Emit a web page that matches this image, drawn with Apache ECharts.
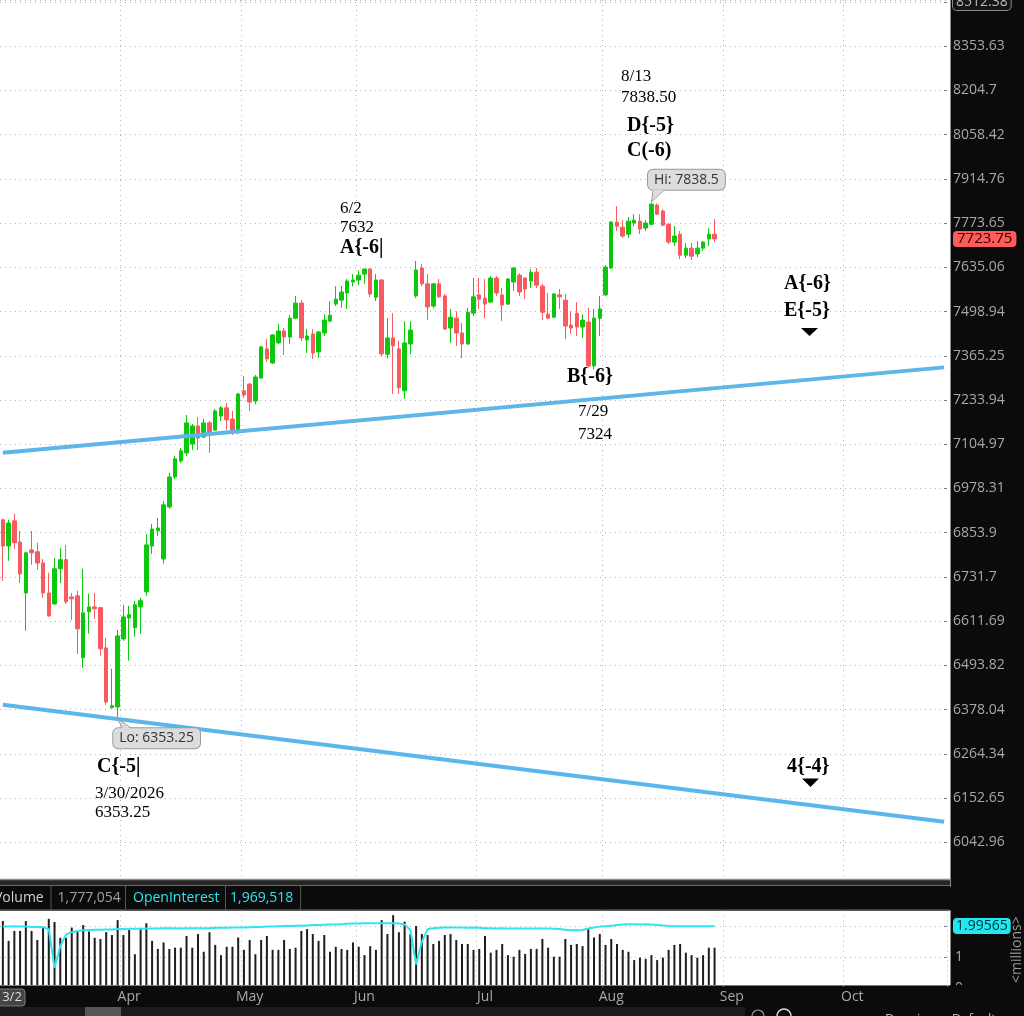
<!DOCTYPE html>
<html><head><meta charset="utf-8">
<script src="https://cdn.jsdelivr.net/npm/echarts@6/dist/echarts.min.js"></script>
<style>html,body{margin:0;padding:0;background:#0b0b0b;overflow:hidden}#c{width:1024px;height:1016px}</style>
</head><body><div id="c"></div>
<script>
// ---------- data ----------
const tickLabels = ['6042.96','6152.65','6264.34','6378.04','6493.82','6611.69','6731.7','6853.9','6978.31','7104.97','7233.94','7365.25','7498.94','7635.06','7773.65','7914.76','8058.42','8204.7','8353.63'];
const axisTop = 8512.38;
const monthNames = ['Jan','Feb','Mar','Apr','May','Jun','Jul','Aug','Sep','Oct','Nov','Dec'];
const firstDay = '2026-03-02';
const holidays = ['2026-04-03','2026-05-25','2026-06-19','2026-07-03','2026-09-07'];
const slotCount = 165;

const opens  = [6890,6817,6887,6828,6688,6806,6801,6770,6688,6658,6754,6779,6677,6680,6514,6637,6650,6648,6540,6383,6385,6564,6620,6594,6650,6691,6817,6859,6781,6926,7011,7057,7080,7106,7158,7126,7167,7146,7187,7211,7178,7138,7261,7281,7231,7299,7386,7344,7404,7440,7422,7479,7525,7413,7431,7377,7434,7470,7522,7534,7556,7590,7596,7614,7630,7543,7596,7370,7419,7386,7261,7401,7547,7633,7584,7516,7584,7547,7449,7479,7434,7401,7494,7550,7540,7528,7602,7550,7522,7590,7611,7602,7593,7620,7577,7491,7482,7550,7534,7458,7494,7452,7467,7335,7479,7550,7633,7777,7761,7739,7774,7780,7758,7770,7831,7812,7770,7714,7739,7673,7695,7677,7695,7724,7739];
const closes = [6817,6881,6826,6740,6798,6798,6770,6688,6626,6754,6779,6664,6672,6591,6634,6650,6645,6538,6398,6388,6572,6623,6629,6656,6667,6820,6864,6867,6932,7011,7063,7086,7167,7158,7123,7167,7138,7202,7211,7176,7146,7252,7249,7228,7302,7392,7356,7428,7440,7422,7479,7525,7419,7425,7374,7437,7473,7488,7537,7559,7593,7596,7611,7630,7553,7596,7371,7419,7395,7270,7404,7443,7627,7584,7513,7584,7544,7446,7482,7434,7401,7497,7544,7537,7522,7602,7556,7519,7599,7633,7559,7568,7620,7580,7497,7479,7553,7544,7455,7449,7452,7473,7335,7479,7507,7636,7777,7764,7733,7780,7783,7755,7774,7834,7802,7767,7714,7733,7673,7695,7670,7695,7714,7739,7723.75];
const lows   = [6721,6776,6809,6715,6586,6765,6751,6675,6623,6656,6715,6658,6615,6524,6487,6578,6618,6519,6390,6380,6353.25,6559,6506,6570,6578,6680,6795,6845,6768,6921,7005,7051,7071,7088,7088,7123,7080,7144,7173,7146,7132,7135,7240,7202,7222,7296,7347,7341,7401,7368,7401,7476,7410,7374,7356,7359,7425,7467,7516,7510,7507,7577,7580,7584,7543,7531,7364,7358,7252,7252,7237,7370,7540,7577,7473,7510,7540,7443,7404,7395,7358,7398,7485,7507,7479,7525,7547,7470,7519,7562,7547,7537,7571,7571,7473,7476,7479,7507,7416,7431,7425,7419,7330,7324,7425,7547,7630,7749,7727,7727,7764,7739,7749,7767,7799,7764,7708,7702,7661,7664,7658,7667,7686,7702,7714];
const highs  = [6893,6890,6907,6859,6801,6859,6826,6781,6743,6784,6812,6820,6688,6694,6754,6686,6688,6650,6567,6485,6588,6656,6653,6667,6675,6850,6878,6895,6943,7023,7071,7094,7190,7164,7184,7179,7173,7208,7216,7225,7202,7255,7305,7284,7308,7395,7416,7431,7461,7449,7488,7547,7534,7446,7446,7440,7491,7531,7577,7577,7599,7614,7625,7631,7632,7614,7599,7479,7494,7410,7470,7470,7655,7645,7614,7587,7599,7553,7507,7500,7464,7510,7602,7602,7599,7608,7608,7571,7602,7636,7617,7605,7630,7633,7584,7556,7556,7568,7553,7500,7528,7491,7510,7507,7547,7642,7780,7828,7783,7793,7802,7802,7783,7838.5,7836,7818,7774,7764,7749,7711,7711,7717,7717,7758,7786];
// volume and open interest, millions
const volumes = [2.16,1.52,1.84,1.84,2.16,1.84,1.55,1.98,2.23,2.13,1.62,1.62,1.95,1.82,2.03,1.82,1.62,1.58,1.80,1.71,2.19,1.71,1.87,1.09,1.90,2.09,1.52,1.26,1.47,1.26,1.30,1.30,1.68,1.30,1.74,1.17,1.80,1.39,1.06,1.33,1.33,1.63,1.23,1.55,1.09,1.55,1.68,1.23,1.23,1.55,1.26,1.30,1.84,1.90,1.74,1.52,1.71,1.17,1.33,1.26,1.23,1.47,1.33,1.06,1.35,1.23,2.19,1.74,2.35,1.80,2.14,1.74,2.00,1.74,1.71,1.42,1.52,1.71,1.74,1.55,1.42,1.42,1.23,1.26,1.68,1.14,1.23,1.42,1.06,1.01,1.23,1.10,1.26,1.26,1.58,1.30,1.01,1.01,1.58,1.39,1.42,1.35,1.93,1.63,1.74,1.39,1.58,1.42,1.23,1.17,0.90,0.98,0.94,1.06,0.90,0.98,1.23,1.39,1.42,1.14,1.06,0.98,1.06,1.30,1.30];
const openInterest = [1.98,1.98,1.99,1.98,1.98,1.97,1.97,1.96,1.90,0.65,1.35,1.72,1.80,1.84,1.86,1.87,1.88,1.88,1.89,1.89,1.90,1.90,1.91,1.91,1.91,1.92,1.92,1.92,1.93,1.93,1.93,1.92,1.93,1.93,1.93,1.93,1.93,1.94,1.94,1.94,1.95,1.95,1.95,1.96,1.97,1.97,1.98,1.98,1.99,2.00,2.00,2.01,2.01,2.02,2.03,2.03,2.04,2.05,2.05,2.06,2.07,2.08,2.08,2.09,2.09,2.09,2.09,2.09,2.09,2.08,2.05,1.87,0.76,1.49,1.90,1.93,1.94,1.95,1.95,1.95,1.95,1.94,1.95,1.94,1.93,1.93,1.92,1.93,1.92,1.92,1.92,1.92,1.92,1.92,1.92,1.92,1.91,1.90,1.88,1.86,1.86,1.87,1.92,1.95,1.98,1.99,2.01,2.03,2.05,2.06,2.06,2.05,2.06,2.05,2.03,2.02,2.00,1.99,1.99,1.99,1.99,1.99,1.99,1.99,1.99565];
const lastPrice = 7723.75;
const lastOI = 1.99565;
const hiPoint = {index: 113, price: 7838.5};
const loPoint = {index: 20, price: 6353.25};
const upperTrend = [[0, 7080.8], [164, 7330.7]];
const lowerTrend = [[0, 6390.7], [164, 6093.5]];
const headerItems = [['Volume','#d0d0d0',-6],['1,777,054','#a0a0a0',57.5],['OpenInterest','#2ee6f0',133],['1,969,518','#2ee6f0',230]];
const notes = [
  ['8/13',621,77,false],['7838.50',621,97.5,false],['D{-5}',627,126,true],['C(-6)',627,150.5,true],
  ['6/2',340,209,false],['7632',340,228,false],['A{-6|',340,248,true],
  ['A{-6}',784,284,true],['E{-5}',784,311,true],
  ['B{-6}',567,377,true],['7/29',578,412,false],['7324',578,435,false],
  ['C{-5|',97,767,true],['3/30/2026',95,794,false],['6353.25',95,813,false],
  ['4{-4}',787,767,true]
];

// ---------- helpers ----------
const dates = [];
(function(){
  const d = new Date(firstDay + 'T00:00:00Z');
  while (dates.length < slotCount) {
    const iso = d.toISOString().slice(0,10);
    const wd = d.getUTCDay();
    if (wd !== 0 && wd !== 6 && holidays.indexOf(iso) < 0) dates.push(iso);
    d.setUTCDate(d.getUTCDate() + 1);
  }
})();
const mon = s => +s.slice(5,7);
const isLastOfMonth = i => i + 1 < dates.length && mon(dates[i+1]) !== mon(dates[i]);
const isFirstOfMonth = i => i > 0 && mon(dates[i]) !== mon(dates[i-1]);
const BASE = +tickLabels[0];
const LNR = Math.log(+tickLabels[tickLabels.length-1] / BASE) / (tickLabels.length-1);
const u = p => Math.log(p / BASE) / LNR;

const UP = '#0cc80c', DOWN = '#f75a5f';
const PX_PER_U = 44.22;
const mainH = (u(axisTop) + 1) * PX_PER_U;
const SANS = 'Open Sans';
const dotted = {color:'#b4b4b4', type:[1,4], width:1};
const hiddenLine = {color:'rgba(0,0,0,0)', width:0};

const graphic = [];
graphic.push({type:'rect', shape:{x:947,y:0,width:3,height:879}, style:{fill:'#fff'}, z:1});
graphic.push({type:'rect', shape:{x:947,y:910.5,width:3,height:75}, style:{fill:'#fff'}, z:1});
graphic.push({type:'rect', shape:{x:0,y:879,width:950,height:7.5}, style:{fill:'#262626'}, z:10});
graphic.push({type:'line', shape:{x1:0,y1:879.5,x2:950,y2:879.5}, style:{stroke:'#8c8c8c',lineWidth:1.5}, z:10});
graphic.push({type:'line', shape:{x1:0,y1:885.5,x2:950,y2:885.5}, style:{stroke:'#6a6a6a',lineWidth:1}, z:10});
graphic.push({type:'rect', shape:{x:0,y:886,width:950,height:24.5}, style:{fill:'#0b0b0b'}, z:10});
graphic.push({type:'line', shape:{x1:0,y1:910,x2:950,y2:910}, style:{stroke:'#6a6a6a',lineWidth:1}, z:10});
[51,125.5,225.5,300.6].forEach(x => graphic.push({type:'line', shape:{x1:x,y1:886,x2:x,y2:910}, style:{stroke:'#555',lineWidth:1}, z:11}));
headerItems.forEach(([t,c,x]) => graphic.push({type:'text', z:11, style:{text:t, x:x, y:898, fill:c, fontSize:14, fontFamily:SANS, align:'left', verticalAlign:'middle', textAlign:'left', textVerticalAlign:'middle'}}));
graphic.push({type:'rect', shape:{x:0,y:985,width:1024,height:31}, style:{fill:'#0b0b0b'}, z:10});
graphic.push({type:'line', shape:{x1:0,y1:985.5,x2:950,y2:985.5}, style:{stroke:'#7a7a7a',lineWidth:1}, z:10});
graphic.push({type:'rect', shape:{x:0,y:1007,width:745,height:9}, style:{fill:'#1c1c1c'}, z:11});
graphic.push({type:'rect', shape:{x:85,y:1007,width:36,height:9}, style:{fill:'#555'}, z:11});
graphic.push({type:'circle', shape:{cx:758,cy:1016,r:6}, style:{fill:'none',stroke:'#999',lineWidth:1.2}, z:11});
graphic.push({type:'circle', shape:{cx:784,cy:1016,r:7}, style:{fill:'none',stroke:'#ddd',lineWidth:1.5}, z:11});
graphic.push({type:'text', z:11, style:{text:'Drawings   Default', x:885, y:1019, fill:'#bbb', fontSize:13, fontFamily:SANS, align:'left', verticalAlign:'middle', textAlign:'left', textVerticalAlign:'middle'}});
graphic.push({type:'rect', shape:{x:-6,y:989,width:31,height:17,r:3}, style:{fill:'#454545',stroke:'#7a7a7a',lineWidth:1}, z:21});
graphic.push({type:'text', z:22, style:{text:(+dates[0].slice(5,7))+'/'+(+dates[0].slice(8,10)), x:12, y:997.5, fill:'#ddd', fontSize:13, fontFamily:SANS, align:'center', verticalAlign:'middle', textAlign:'center', textVerticalAlign:'middle'}});
graphic.push({type:'text', z:21, rotation:Math.PI/2, x:1017, y:983, style:{text:'<millions>', x:0, y:0, fill:'#9a9a9a', fontSize:14, fontFamily:SANS, align:'left', verticalAlign:'middle', textAlign:'left', textVerticalAlign:'middle'}});
notes.forEach(([t,x,y,b]) => graphic.push({type:'text', z:30, style:{text:t, x:x, y:y, fill:'#000', fontSize: b?20:17, fontWeight: b?'bold':'normal', fontFamily:'Liberation Serif', align:'left', verticalAlign:'middle', textAlign:'left', textVerticalAlign:'middle'}}));
graphic.push({type:'polygon', shape:{points:[[801,328],[818,328],[809.5,336]]}, style:{fill:'#000'}, z:30});
graphic.push({type:'polygon', shape:{points:[[802,778.5],[819,778.5],[810.5,787]]}, style:{fill:'#000'}, z:30});
graphic.push({type:'polygon', shape:{points:[[653,190],[663,190],[651.5,202]]}, style:{fill:'#dcdcdc'}, z:30});
graphic.push({type:'polyline', shape:{points:[[653,191],[651.5,202],[663,191]]}, style:{stroke:'#9a9a9a',lineWidth:1,fill:null}, z:30});
graphic.push({type:'polygon', shape:{points:[[118,719],[122,729],[131,729]]}, style:{fill:'#dcdcdc'}, z:30});
graphic.push({type:'polyline', shape:{points:[[122,728],[118,719],[131,728]]}, style:{stroke:'#9a9a9a',lineWidth:1,fill:null}, z:30});

const calloutLabel = {show:true, position:'inside', color:'#333', fontSize:14, fontFamily:SANS, backgroundColor:'#dcdcdc', borderColor:'#9a9a9a', borderWidth:1, borderRadius:5, padding:[3,6]};

const option = {
  animation:false,
  backgroundColor:'#0b0b0b',
  grid:[
    {left:0, top:0, width:947, height:mainH, show:true, backgroundColor:'#fff', borderWidth:0, containLabel:false, outerBoundsMode:'none'},
    {left:0, top:910.5, width:947, height:77.5, show:true, backgroundColor:'#fff', borderWidth:0, containLabel:false, outerBoundsMode:'none'}
  ],
  xAxis:[
    {type:'category', gridIndex:0, data:dates, boundaryGap:true, axisLine:{show:false}, axisTick:{show:false}, axisLabel:{show:false},
     splitLine:{show:true, interval:(i)=>isLastOfMonth(i), lineStyle:dotted}},
    {type:'category', gridIndex:1, data:dates, boundaryGap:true, z:20, axisLine:{show:false}, axisTick:{show:false},
     axisLabel:{show:true, interval:(i)=>isFirstOfMonth(i), formatter:(v)=>monthNames[mon(v)-1], color:'#a8a8a8', fontSize:14, fontFamily:SANS, margin:2},
     splitLine:{show:true, interval:(i)=>isLastOfMonth(i), lineStyle:dotted}}
  ],
  yAxis:[
    {type:'value', gridIndex:0, position:'right', offset:3, min:-1, max:u(axisTop), interval:1, scale:false,
     axisLine:{show:true, lineStyle:{color:'#8a8a8a', width:1}},
     axisTick:{show:true, inside:true, length:6, lineStyle:{color:'#777'}},
     axisLabel:{show:true, showMaxLabel:false, showMinLabel:false, margin:3, color:'#a8a8a8', fontSize:14, fontFamily:SANS,
       formatter:(v)=>{const k=Math.round(v); if (Math.abs(v-k)>0.001 || k<0) return ''; if (k>=tickLabels.length) return '{top|'+axisTop.toFixed(2)+'}'; return tickLabels[k];},
       rich:{top:{color:'#bbb', fontSize:14, fontFamily:SANS, backgroundColor:'#151515', borderColor:'#8a8a8a', borderWidth:1, borderRadius:4, padding:[1,3]}}},
     splitLine:{show:true, lineStyle:dotted}},
    {type:'value', gridIndex:1, position:'right', offset:3, min:0, max:2.5, interval:1,
     axisLine:{show:true, lineStyle:{color:'#8a8a8a', width:1}},
     axisTick:{show:true, inside:true, length:6, lineStyle:{color:'#777'}},
     axisLabel:{show:true, showMaxLabel:false, margin:5, color:'#a8a8a8', fontSize:14, fontFamily:SANS, formatter:(v)=> v===1?'1':(v===0?'0':'')},
     splitLine:{show:true, lineStyle:dotted}}
  ],
  series:[
    {type:'candlestick', name:'price', xAxisIndex:0, yAxisIndex:0, barWidth:4, z:2,
     data: opens.map((o,i)=>[u(o), u(closes[i]), u(lows[i]), u(highs[i])]),
     itemStyle:{color:UP, color0:DOWN, borderColor:UP, borderColor0:DOWN, borderWidth:1},
     markLine:{silent:true, symbol:['none','none'], lineStyle:hiddenLine, emphasis:{disabled:true}, data:[{yAxis:u(lastPrice)}],
       label:{show:true, position:'end', distance:6, formatter:lastPrice.toFixed(2), backgroundColor:'#ff5b5b', color:'#2a0000', borderRadius:4, padding:[0,4], lineHeight:16, fontSize:15, fontFamily:SANS}},
     markPoint:{silent:true, symbol:'circle', symbolSize:1, itemStyle:{color:'rgba(0,0,0,0)'},
       data:[
         {coord:[dates[hiPoint.index], u(hiPoint.price)], label:Object.assign({}, calloutLabel, {offset:[35,-23], formatter:'Hi: '+hiPoint.price})},
         {coord:[dates[loPoint.index], u(loPoint.price)], label:Object.assign({}, calloutLabel, {offset:[39,19], formatter:'Lo: '+loPoint.price})}
       ]}
    },
    {type:'line', name:'upper', xAxisIndex:0, yAxisIndex:0, z:3, silent:true, symbol:'none',
     data: upperTrend.map(([i,p])=>[dates[i], u(p)]), lineStyle:{color:'#5cb6ea', width:4}},
    {type:'line', name:'lower', xAxisIndex:0, yAxisIndex:0, z:3, silent:true, symbol:'none',
     data: lowerTrend.map(([i,p])=>[dates[i], u(p)]), lineStyle:{color:'#5cb6ea', width:4}},
    {type:'bar', name:'Volume', xAxisIndex:1, yAxisIndex:1, barWidth:2, data:volumes, itemStyle:{color:'#1e1e1e'}, silent:true},
    {type:'line', name:'OpenInterest', xAxisIndex:1, yAxisIndex:1, symbol:'none', data:openInterest, lineStyle:{color:'#2ee6f0', width:2}, silent:true,
     markLine:{silent:true, symbol:['none','none'], lineStyle:hiddenLine, emphasis:{disabled:true}, data:[{yAxis:lastOI}],
       label:{show:true, position:'end', distance:6, formatter:String(lastOI), backgroundColor:'#22e6f0', color:'#053030', borderRadius:4, padding:[1,3], fontSize:14, fontFamily:SANS}}}
  ],
  graphic: graphic
};
const chart = echarts.init(document.getElementById('c'), null, {renderer:'canvas'});
chart.setOption(option);
</script>
</body></html>
